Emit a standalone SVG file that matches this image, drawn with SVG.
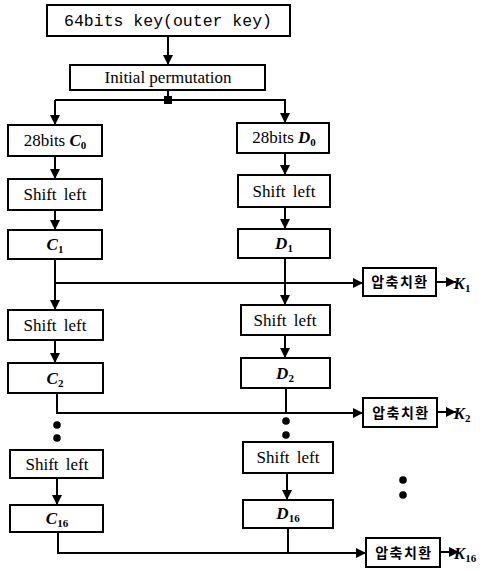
<svg xmlns="http://www.w3.org/2000/svg" width="489" height="571" viewBox="0 0 489 571">
<style>
.b{fill:#fff;stroke:#000;stroke-width:2}
.l{fill:none;stroke:#000;stroke-width:2}
.t{font-family:"Liberation Serif",serif;font-size:17px;fill:#000;text-anchor:middle}
.m{font-family:"Liberation Mono",monospace;font-size:16.5px;fill:#000;text-anchor:middle}
.k{font-family:"Noto Sans CJK KR",sans-serif;font-size:14px;font-weight:bold;fill:#000;text-anchor:middle;letter-spacing:1.5px}
.i{font-style:italic;font-weight:bold}
.s{font-size:11px;font-weight:bold}
</style>
<defs>
<marker id="a" viewBox="0 0 10 10" refX="10" refY="5" markerWidth="10" markerHeight="10" markerUnits="userSpaceOnUse" orient="auto">
<path d="M0,0 L10,5 L0,10 Z" fill="#000"/>
</marker>
</defs>
<g id="connectors">
<path class="l" d="M168,36 V65" marker-end="url(#a)"/>
<path class="l" d="M168,90 V100"/>
<rect x="164" y="96" width="8" height="8" fill="#000"/>
<path class="l" d="M55,100 H285 V123" marker-end="url(#a)"/>
<path class="l" d="M55,100 V125" marker-end="url(#a)"/>
<path class="l" d="M55,156 V179" marker-end="url(#a)"/>
<path class="l" d="M55,210 V230" marker-end="url(#a)"/>
<path class="l" d="M55,259 V310" marker-end="url(#a)"/>
<path class="l" d="M55,283 H363" marker-end="url(#a)"/>
<path class="l" d="M55,340 V363" marker-end="url(#a)"/>
<path class="l" d="M57,393 V413 H363" marker-end="url(#a)"/>
<path class="l" d="M57,478 V505" marker-end="url(#a)"/>
<path class="l" d="M58,532 V553 H366" marker-end="url(#a)"/>
<path class="l" d="M285,153 V175" marker-end="url(#a)"/>
<path class="l" d="M285,207 V229" marker-end="url(#a)"/>
<path class="l" d="M285,258 V305" marker-end="url(#a)"/>
<path class="l" d="M285,335 V358" marker-end="url(#a)"/>
<path class="l" d="M286,388 V413"/>
<path class="l" d="M287,473 V500" marker-end="url(#a)"/>
<path class="l" d="M288,528 V553"/>
<path class="l" d="M436,282 H456" marker-end="url(#a)"/>
<path class="l" d="M437,412 H456" marker-end="url(#a)"/>
<path class="l" d="M440,552 H459" marker-end="url(#a)"/>
</g>
<g id="dots" fill="#000">
<circle cx="57" cy="425" r="3.8"/>
<circle cx="57" cy="438" r="3.8"/>
<circle cx="286" cy="421" r="3.8"/>
<circle cx="286" cy="435" r="3.8"/>
<circle cx="403" cy="480" r="3.8"/>
<circle cx="403" cy="495" r="3.8"/>
</g>
<g id="key64"><rect class="b" x="47" y="5" width="243" height="31"/><text class="m" x="168" y="26">64bits key(outer key)</text></g>
<g id="initperm"><rect class="b" x="70" y="65" width="195" height="25"/><text class="t" x="168" y="83" font-size="15.5">Initial permutation</text></g>
<g id="c0"><rect class="b" x="8" y="125" width="94" height="31"/><text class="t" x="55" y="146">28bits <tspan class="i">C</tspan><tspan class="s" dy="3">0</tspan></text></g>
<g id="shiftc1"><rect class="b" x="8" y="179" width="94" height="31"/><text class="t" x="55" y="200" word-spacing="3">Shift left</text></g>
<g id="c1"><rect class="b" x="8" y="230" width="94" height="29"/><text class="t" x="55" y="250"><tspan class="i">C</tspan><tspan class="s" dy="3">1</tspan></text></g>
<g id="shiftc2"><rect class="b" x="8" y="310" width="95" height="30"/><text class="t" x="55" y="331" word-spacing="3">Shift left</text></g>
<g id="c2"><rect class="b" x="8" y="363" width="95" height="30"/><text class="t" x="55" y="384"><tspan class="i">C</tspan><tspan class="s" dy="3">2</tspan></text></g>
<g id="shiftc16"><rect class="b" x="10" y="450" width="93" height="28"/><text class="t" x="57" y="470" word-spacing="3">Shift left</text></g>
<g id="c16"><rect class="b" x="10" y="505" width="93" height="27"/><text class="t" x="57" y="524"><tspan class="i">C</tspan><tspan class="s" dy="3">16</tspan></text></g>
<g id="d0"><rect class="b" x="237" y="123" width="92" height="30"/><text class="t" x="284" y="143">28bits <tspan class="i">D</tspan><tspan class="s" dy="3">0</tspan></text></g>
<g id="shiftd1"><rect class="b" x="238" y="175" width="92" height="32"/><text class="t" x="284" y="197" word-spacing="3">Shift left</text></g>
<g id="d1"><rect class="b" x="238" y="229" width="92" height="29"/><text class="t" x="284" y="249"><tspan class="i">D</tspan><tspan class="s" dy="3">1</tspan></text></g>
<g id="shiftd2"><rect class="b" x="241" y="305" width="89" height="30"/><text class="t" x="285" y="326" word-spacing="3">Shift left</text></g>
<g id="d2"><rect class="b" x="241" y="358" width="89" height="30"/><text class="t" x="285" y="379"><tspan class="i">D</tspan><tspan class="s" dy="3">2</tspan></text></g>
<g id="shiftd16"><rect class="b" x="243" y="442" width="90" height="31"/><text class="t" x="288" y="463" word-spacing="3">Shift left</text></g>
<g id="d16"><rect class="b" x="243" y="500" width="90" height="28"/><text class="t" x="288" y="519"><tspan class="i">D</tspan><tspan class="s" dy="3">16</tspan></text></g>
<g id="comp1"><rect class="b" x="363" y="268" width="73" height="28"/><text class="k" x="400" y="287">압축치환</text></g>
<g id="comp2"><rect class="b" x="363" y="398" width="74" height="29"/><text class="k" x="401" y="418">압축치환</text></g>
<g id="comp3"><rect class="b" x="366" y="538" width="74" height="29"/><text class="k" x="404" y="558">압축치환</text></g>
<g id="k1"><text class="t" x="462" y="289" text-anchor="start"><tspan class="i">K</tspan><tspan class="s" dy="3">1</tspan></text></g>
<g id="k2"><text class="t" x="462" y="419" text-anchor="start"><tspan class="i">K</tspan><tspan class="s" dy="3">2</tspan></text></g>
<g id="k16"><text class="t" x="465" y="559" text-anchor="start"><tspan class="i">K</tspan><tspan class="s" dy="3">16</tspan></text></g>
</svg>
